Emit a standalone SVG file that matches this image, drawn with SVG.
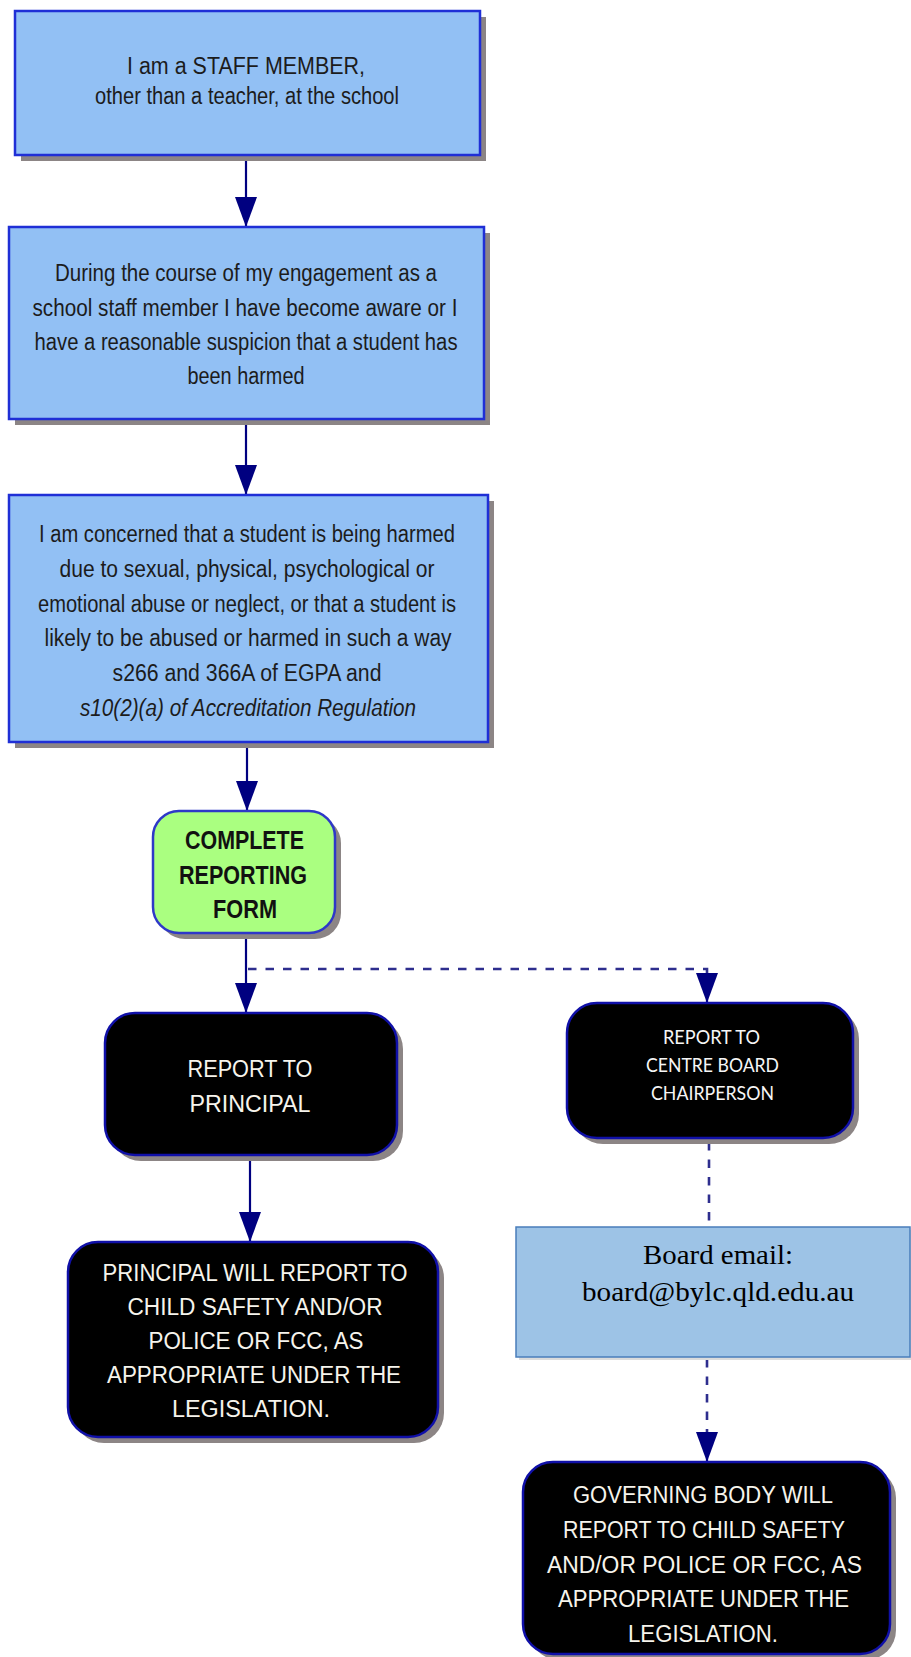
<svg xmlns="http://www.w3.org/2000/svg" width="911" height="1657" viewBox="0 0 911 1657">
<defs>
<marker id="ah" markerUnits="userSpaceOnUse" viewBox="0 0 30 22" markerWidth="30" markerHeight="22" refX="30" refY="11" orient="auto">
<path d="M0,0 L30,11 L0,22 Z" fill="#000080"/>
</marker>
<style>
.shadow{fill:#8c8585}
.blue{fill:#92c0f4;stroke:#1f2fd6;stroke-width:2.5}
.green{fill:#aaff80;stroke:#2e38c8;stroke-width:2.5}
.black{fill:#000;stroke:#1010a8;stroke-width:2.5}
.email{fill:#9dc3e6;stroke:#4a7ebb;stroke-width:1.5}
.t{font-family:"Liberation Sans",Arial,sans-serif;font-size:23px;fill:#1c1c1c;text-anchor:middle}
.tb{font-family:"Liberation Sans",Arial,sans-serif;font-size:25px;font-weight:bold;fill:#111;text-anchor:middle}
.tw{font-family:"Liberation Sans",Arial,sans-serif;font-size:23.5px;fill:#f6f4ec;text-anchor:middle}
.tc{font-family:Lato,"Open Sans",sans-serif;font-size:19px;fill:#f6f6f6;text-anchor:middle}
.tt{font-family:"Liberation Serif","Times New Roman",serif;font-size:28px;fill:#000;text-anchor:middle}
.arrow{fill:none;stroke:#000080;stroke-width:2.2}
.dash{fill:none;stroke:#2e2e8e;stroke-width:2.6;stroke-dasharray:8.5 9}
</style>
</defs>

<g id="connectors">
<path class="arrow" d="M246,155 V227" marker-end="url(#ah)"/>
<path class="arrow" d="M246,419 V495" marker-end="url(#ah)"/>
<path class="arrow" d="M247,742 V811" marker-end="url(#ah)"/>
<path class="arrow" d="M246,933 V1013" marker-end="url(#ah)"/>
<path class="dash" d="M248,969 H707 V973"/>
<path class="arrow" d="M707,973 V1003" stroke="none" marker-end="url(#ah)"/>
<path class="arrow" d="M250,1155 V1242" marker-end="url(#ah)"/>
<path class="dash" d="M709,1142 V1227"/>
<path class="dash" d="M707,1359 V1432"/>
<path class="arrow" d="M707,1432 V1462" stroke="none" marker-end="url(#ah)"/>
</g>

<g id="staff-member">
<rect class="shadow" x="21" y="17" width="465" height="144"/>
<rect class="blue" x="15" y="11" width="465" height="144"/>
<text class="t" x="246" y="74" textLength="238" lengthAdjust="spacingAndGlyphs">I am a STAFF MEMBER,</text>
<text class="t" x="247" y="104" textLength="304" lengthAdjust="spacingAndGlyphs">other than a teacher, at the school</text>
</g>

<g id="become-aware">
<rect class="shadow" x="15" y="233" width="475" height="192"/>
<rect class="blue" x="9" y="227" width="475" height="192"/>
<text class="t" x="246" y="281" textLength="382" lengthAdjust="spacingAndGlyphs">During the course of my engagement as a</text>
<text class="t" x="245" y="316" textLength="425" lengthAdjust="spacingAndGlyphs">school staff member I have become aware or I</text>
<text class="t" x="246" y="350" textLength="423" lengthAdjust="spacingAndGlyphs">have a reasonable suspicion that a student has</text>
<text class="t" x="246" y="384" textLength="117" lengthAdjust="spacingAndGlyphs">been harmed</text>
</g>

<g id="concerned">
<rect class="shadow" x="15" y="501" width="479" height="247"/>
<rect class="blue" x="9" y="495" width="479" height="247"/>
<text class="t" x="247" y="542" textLength="416" lengthAdjust="spacingAndGlyphs">I am concerned that a student is being harmed</text>
<text class="t" x="247" y="577" textLength="375" lengthAdjust="spacingAndGlyphs">due to sexual, physical, psychological or</text>
<text class="t" x="247" y="612" textLength="418" lengthAdjust="spacingAndGlyphs">emotional abuse or neglect, or that a student is</text>
<text class="t" x="248" y="646" textLength="407" lengthAdjust="spacingAndGlyphs">likely to be abused or harmed in such a way</text>
<text class="t" x="247" y="681" textLength="269" lengthAdjust="spacingAndGlyphs">s266 and 366A of EGPA and</text>
<text class="t" x="248" y="716" textLength="336" lengthAdjust="spacingAndGlyphs" font-style="italic">s10(2)(a) of Accreditation Regulation</text>
</g>

<g id="complete-form">
<rect class="shadow" x="159" y="817" width="182" height="122" rx="26"/>
<rect class="green" x="153" y="811" width="182" height="122" rx="26"/>
<text class="tb" x="244.5" y="849" textLength="119" lengthAdjust="spacingAndGlyphs">COMPLETE</text>
<text class="tb" x="243" y="884" textLength="128" lengthAdjust="spacingAndGlyphs">REPORTING</text>
<text class="tb" x="245" y="918" textLength="64" lengthAdjust="spacingAndGlyphs">FORM</text>
</g>

<g id="report-principal">
<rect class="shadow" x="111" y="1019" width="292" height="142" rx="30"/>
<rect class="black" x="105" y="1013" width="292" height="142" rx="30"/>
<text class="tw" x="250" y="1077" textLength="125" lengthAdjust="spacingAndGlyphs">REPORT TO</text>
<text class="tw" x="250" y="1112" textLength="121" lengthAdjust="spacingAndGlyphs">PRINCIPAL</text>
</g>

<g id="report-chairperson">
<rect class="shadow" x="573" y="1009" width="286" height="135" rx="30"/>
<rect class="black" x="567" y="1003" width="286" height="135" rx="30"/>
<text class="tc" x="711.5" y="1044" textLength="97" lengthAdjust="spacingAndGlyphs">REPORT TO</text>
<text class="tc" x="712.5" y="1072" textLength="133" lengthAdjust="spacingAndGlyphs">CENTRE BOARD</text>
<text class="tc" x="712.5" y="1100" textLength="123" lengthAdjust="spacingAndGlyphs">CHAIRPERSON</text>
</g>

<g id="principal-will-report">
<rect class="shadow" x="74" y="1248" width="370" height="195" rx="30"/>
<rect class="black" x="68" y="1242" width="370" height="195" rx="30"/>
<text class="tw" x="255" y="1281" textLength="305" lengthAdjust="spacingAndGlyphs">PRINCIPAL WILL REPORT TO</text>
<text class="tw" x="255" y="1315" textLength="255" lengthAdjust="spacingAndGlyphs">CHILD SAFETY AND/OR</text>
<text class="tw" x="256" y="1349" textLength="215" lengthAdjust="spacingAndGlyphs">POLICE OR FCC, AS</text>
<text class="tw" x="254" y="1383" textLength="294" lengthAdjust="spacingAndGlyphs">APPROPRIATE UNDER THE</text>
<text class="tw" x="251" y="1417" textLength="158" lengthAdjust="spacingAndGlyphs">LEGISLATION.</text>
</g>

<g id="board-email">
<rect x="519" y="1230" width="394" height="130" fill="#dcdcdc"/>
<rect class="email" x="516" y="1227" width="394" height="130"/>
<text class="tt" x="718" y="1264" textLength="150" lengthAdjust="spacingAndGlyphs">Board email:</text>
<text class="tt" x="718" y="1301" textLength="272" lengthAdjust="spacingAndGlyphs">board@bylc.qld.edu.au</text>
</g>

<g id="governing-body">
<rect class="shadow" x="529" y="1468" width="367" height="192" rx="30"/>
<rect class="black" x="523" y="1462" width="367" height="192" rx="30"/>
<text class="tw" x="703" y="1503" textLength="260" lengthAdjust="spacingAndGlyphs">GOVERNING BODY WILL</text>
<text class="tw" x="704" y="1538" textLength="282" lengthAdjust="spacingAndGlyphs">REPORT TO CHILD SAFETY</text>
<text class="tw" x="704.5" y="1573" textLength="315" lengthAdjust="spacingAndGlyphs">AND/OR POLICE OR FCC, AS</text>
<text class="tw" x="703.5" y="1607" textLength="291" lengthAdjust="spacingAndGlyphs">APPROPRIATE UNDER THE</text>
<text class="tw" x="703" y="1642" textLength="150" lengthAdjust="spacingAndGlyphs">LEGISLATION.</text>
</g>
</svg>
